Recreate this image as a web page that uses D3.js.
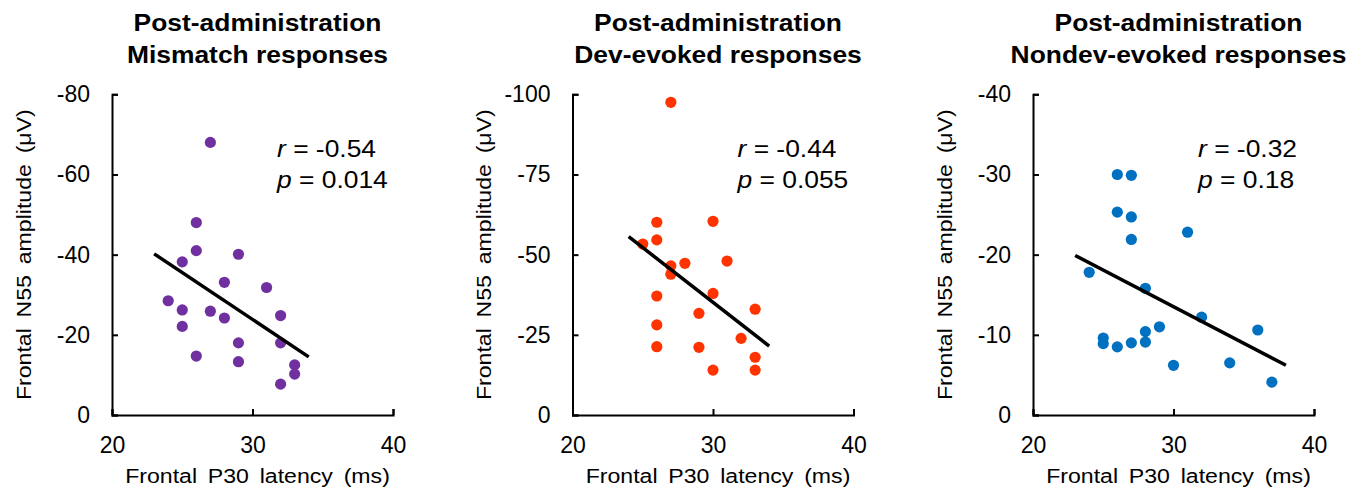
<!DOCTYPE html>
<html>
<head>
<meta charset="utf-8">
<script src="https://cdn.jsdelivr.net/npm/d3@7"></script>
<style>
  html, body { margin: 0; padding: 0; background: #fff; }
  svg { display: block; font-family: "Liberation Sans", Arial, sans-serif; }
</style>
</head>
<body>
<svg id="chart" width="1353" height="492"></svg>
<script>
// ---------- data ----------
const titlesLine1 = ["Post-administration", "Post-administration", "Post-administration"];
const titlesLine2 = ["Mismatch responses", "Dev-evoked responses", "Nondev-evoked responses"];
const xAxisTitle = "Frontal P30 latency (ms)";
const yAxisTitle = "Frontal N55 amplitude (\u03BCV)";

const xTicks = [20, 30, 40];
const yTicksMismatch = [0, -20, -40, -60, -80];
const yTicksDev = [0, -25, -50, -75, -100];
const yTicksNondev = [0, -10, -20, -30, -40];

const latencyMismatch = [27, 26, 26, 25, 29, 28, 31, 24, 25, 27, 28, 32, 25, 29, 32, 26, 29, 33, 33, 32];
const amplitudeMismatch = [-68, -48, -41, -38.2, -40.1, -33.1, -31.8, -28.5, -26.2, -25.9, -24.2, -24.8, -22.1, -18, -18, -14.7, -13.3, -12.5, -10.2, -7.7];

const latencyDev = [27, 26, 30, 26, 25, 27, 28, 27, 31, 26, 30, 29, 33, 26, 32, 26, 29, 33, 30, 33];
const amplitudeDev = [-97.5, -60.1, -60.4, -54.6, -53.3, -46.5, -47.3, -43.9, -48, -37.1, -37.9, -31.7, -33, -28.1, -23.9, -21.3, -21.1, -18, -14, -14];

const latencyNondev = [26, 27, 26, 27, 27, 31, 24, 28, 32, 29, 28, 36, 25, 25, 26, 27, 28, 30, 34, 37];
const amplitudeNondev = [-30, -29.9, -25.3, -24.7, -21.9, -22.8, -17.8, -15.8, -12.2, -11, -10.4, -10.6, -9.6, -8.9, -8.5, -9, -9.1, -6.2, -6.5, -4.1];

const fitXMismatch = [23, 34], fitYMismatch = [-40.2, -14.5];
const fitXDev = [24, 34], fitYDev = [-55.6, -21.5];
const fitXNondev = [23, 38], fitYNondev = [-19.9, -6.2];

const rLabels = ["-0.54", "-0.44", "-0.32"];
const pLabels = ["0.014", "0.055", "0.18"];

// ---------- layout ----------
const panels = [
  { left: 112, lat: latencyMismatch, amp: amplitudeMismatch, yTicks: yTicksMismatch, fx: fitXMismatch, fy: fitYMismatch, color: "#7030A0" },
  { left: 572.5, lat: latencyDev, amp: amplitudeDev, yTicks: yTicksDev, fx: fitXDev, fy: fitYDev, color: "#FF3300" },
  { left: 1033, lat: latencyNondev, amp: amplitudeNondev, yTicks: yTicksNondev, fx: fitXNondev, fy: fitYNondev, color: "#0070C0" }
];
const plotW = 281, plotTop = 94.3, plotBottom = 415;
const SX = 1.1; // horizontal stretch of text in reference

const svg = d3.select("#chart");

panels.forEach((p, i) => {
  const x = d3.scaleLinear().domain([20, 40]).range([p.left, p.left + plotW]);
  const y = d3.scaleLinear().domain([0, d3.min(p.yTicks)]).range([plotBottom, plotTop]);
  const g = svg.append("g");

  // axes
  const xAxis = d3.axisBottom(x).tickValues(xTicks).tickFormat(d => String(d)).tickSize(-6).tickPadding(22);
  const gx = g.append("g").attr("transform", `translate(0,${plotBottom})`).call(xAxis);
  const yAxis = d3.axisLeft(y).tickValues(p.yTicks).tickFormat(d => String(d)).tickSize(-6).tickPadding(22);
  const gy = g.append("g").attr("transform", `translate(${p.left},0)`).call(yAxis);
  [gx, gy].forEach(a => {
    a.selectAll("path.domain").attr("stroke", "#000").attr("stroke-width", 2);
    a.selectAll(".tick line").attr("stroke", "#000").attr("stroke-width", 2);
    a.selectAll(".tick text").attr("fill", "#000").style("font-size", "23px")
      .style("font-family", '"Liberation Sans", Arial, sans-serif');
  });

  // points
  g.append("g").selectAll("circle").data(p.lat.map((v, k) => [v, p.amp[k]])).join("circle")
    .attr("cx", d => x(d[0])).attr("cy", d => y(d[1])).attr("r", 5.6).attr("fill", p.color);

  // regression line
  g.append("line")
    .attr("x1", x(p.fx[0])).attr("y1", y(p.fy[0]))
    .attr("x2", x(p.fx[1])).attr("y2", y(p.fy[1]))
    .attr("stroke", "#000").attr("stroke-width", 3.5);

  const cx = p.left + plotW / 2 + 5;
  // titles
  [[titlesLine1[i], 31], [titlesLine2[i], 63]].forEach(([t, by]) => {
    g.append("text").attr("transform", `translate(${cx},${by}) scale(${SX},1)`)
      .attr("text-anchor", "middle").style("font-size", "24px").style("font-weight", "bold").text(t);
  });

  // stats
  const st1 = g.append("text").attr("transform", `translate(${p.left + 165},156.5) scale(${SX},1)`).style("font-size", "24px");
  st1.append("tspan").style("font-style", "italic").text("r");
  st1.append("tspan").text(" = " + rLabels[i]);
  const st2 = g.append("text").attr("transform", `translate(${p.left + 165},187.5) scale(${SX},1)`).style("font-size", "24px");
  st2.append("tspan").style("font-style", "italic").text("p");
  st2.append("tspan").text(" = " + pLabels[i]);

  // axis titles
  g.append("text").attr("transform", `translate(${cx},483) scale(${SX},1)`)
    .attr("text-anchor", "middle").style("font-size", "21px").style("word-spacing", "4px").text(xAxisTitle);
  g.append("text").attr("transform", `translate(${p.left - 81.5},${(plotTop + plotBottom) / 2}) rotate(-90) scale(${SX},1)`)
    .attr("text-anchor", "middle").style("font-size", "21px").style("word-spacing", "4px").text(yAxisTitle);
});
</script>
</body>
</html>
